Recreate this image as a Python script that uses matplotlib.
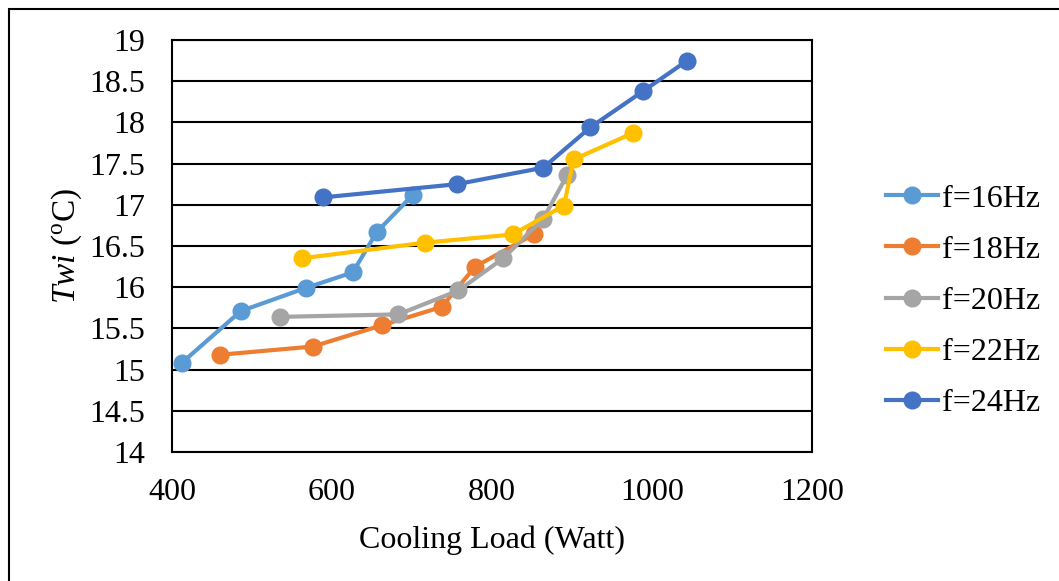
import matplotlib
matplotlib.use("Agg")
import matplotlib.pyplot as plt
from matplotlib.patches import Rectangle

plt.rcParams["font.family"] = ["Liberation Serif", "DejaVu Serif"]
plt.rcParams["mathtext.fontset"] = "custom"
plt.rcParams["mathtext.rm"] = "Liberation Serif"
plt.rcParams["mathtext.it"] = "Liberation Serif:italic"

# data
load_16 = [412, 486, 567, 626, 656, 701]
twi_16 = [15.08, 15.71, 15.99, 16.18, 16.67, 17.12]

load_18 = [460, 576, 663, 737, 779, 852]
twi_18 = [15.18, 15.28, 15.54, 15.76, 16.25, 16.64]

load_20 = [535, 683, 758, 814, 864, 894]
twi_20 = [15.64, 15.67, 15.96, 16.35, 16.83, 17.36]

load_22 = [562, 716, 826, 890, 902, 976]
twi_22 = [16.35, 16.54, 16.64, 16.99, 17.55, 17.87]

load_24 = [589, 756, 864, 923, 989, 1044]
twi_24 = [17.09, 17.25, 17.45, 17.94, 18.38, 18.75]

series = [
    ("f=16Hz", load_16, twi_16, "#5B9BD5"),
    ("f=18Hz", load_18, twi_18, "#ED7D31"),
    ("f=20Hz", load_20, twi_20, "#A5A5A5"),
    ("f=22Hz", load_22, twi_22, "#FFC000"),
    ("f=24Hz", load_24, twi_24, "#4472C4"),
]

x_ticks = [400, 600, 800, 1000, 1200]
y_ticks = [14, 14.5, 15, 15.5, 16, 16.5, 17, 17.5, 18, 18.5, 19]

W, H = 1059, 581
fig = plt.figure(figsize=(W / 100, H / 100), dpi=100)
ax = fig.add_axes([172 / W, 1 - 452 / H, 640 / W, 412 / H])

# outer frame of the chart
fig.patches.append(Rectangle((9 / W, -0.05), 1.1, 1 - 9 / H + 0.05,
                             transform=fig.transFigure, fill=False,
                             edgecolor="black", linewidth=1.5))

for label, x, y, c in series:
    ax.plot(x, y, color=c, linewidth=3, marker="o", markersize=12, label=label)

ax.set_xlim(400, 1200)
ax.set_ylim(14, 19)
ax.set_xticks(x_ticks)
ax.set_yticks(y_ticks)
ax.set_xticklabels([str(v) for v in x_ticks])
ax.set_yticklabels([f"{v:g}" for v in y_ticks])
ax.tick_params(length=0, labelsize=23)
ax.tick_params(axis="y", pad=19)
ax.tick_params(axis="x", pad=19)
ax.yaxis.grid(True, color="black", linewidth=1.5)
ax.set_axisbelow(True)
for s in ax.spines.values():
    s.set_linewidth(1.5)

ax.set_xlabel("Cooling Load (Watt)", fontsize=23, labelpad=13)
ax.set_ylabel(r"$\it{Twi}$ ($^{\rm o}$C)", fontsize=24, labelpad=4)

ax.legend(loc="center left", bbox_to_anchor=(857 / W, 1 - 301 / H),
          bbox_transform=fig.transFigure, frameon=False,
          fontsize=23, handlelength=1.65, handletextpad=0.1, labelspacing=0.68)

fig.savefig("out.png", dpi=100)
